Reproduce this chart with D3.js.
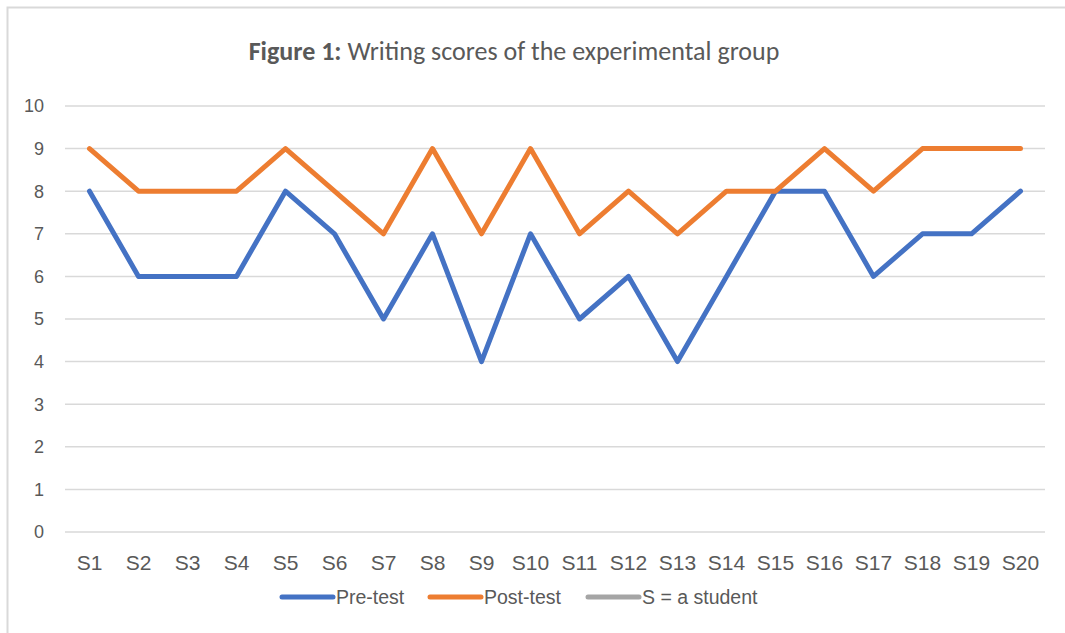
<!DOCTYPE html>
<html>
<head>
<meta charset="utf-8">
<script src="https://cdn.jsdelivr.net/npm/d3@7"></script>
<style>
  body { margin: 0; background: #fff; }
  svg text { fill: #595959; }
</style>
</head>
<body>
<div id="chart"></div>
<script>
// students on the x axis
var students = ["S1","S2","S3","S4","S5","S6","S7","S8","S9","S10",
                "S11","S12","S13","S14","S15","S16","S17","S18","S19","S20"];
var preTest  = [8,6,6,6,8,7,5,7,4,7,5,6,4,6,8,8,6,7,7,8];
var postTest = [9,8,8,8,9,8,7,9,7,9,7,8,7,8,8,9,8,9,9,9];
var yTicks = [0,1,2,3,4,5,6,7,8,9,10];
var legendNames = ["Pre-test", "Post-test", "S = a student"];
var colors = ["#4472C4", "#ED7D31", "#A5A5A5"];

var W = 1065, H = 633;
var svg = d3.select("#chart").append("svg")
    .attr("width", W)
    .attr("height", H);

// chart frame (only top and left edge show in the picture)
svg.append("rect")
    .attr("x", 7.5).attr("y", 7.5)
    .attr("width", W + 20).attr("height", H + 20)
    .attr("fill", "none")
    .attr("stroke", "#D9D9D9")
    .attr("stroke-width", 2);

var x = d3.scaleBand().domain(students).range([65, 1045]);
var y = d3.scaleLinear().domain([0, 10]).range([532, 106]);

// gridlines
svg.append("g")
  .selectAll("line")
  .data(yTicks)
  .enter()
  .append("line")
    .attr("x1", 65).attr("x2", 1045)
    .attr("y1", function(d){ return y(d) }).attr("y2", function(d){ return y(d) })
    .attr("stroke", "#D9D9D9")
    .attr("stroke-width", 1.5);

// y labels
svg.append("g")
  .selectAll("text")
  .data(yTicks)
  .enter()
  .append("text")
    .attr("x", 44)
    .attr("y", function(d){ return y(d) })
    .attr("dy", "0.35em")
    .attr("text-anchor", "end")
    .style("font-family", "Liberation Sans, Arial, sans-serif")
    .style("font-size", "18px")
    .text(function(d){ return d });

// x labels
svg.append("g")
  .selectAll("text")
  .data(students)
  .enter()
  .append("text")
    .attr("x", function(d){ return x(d) + x.bandwidth() / 2 })
    .attr("y", 570)
    .attr("text-anchor", "middle")
    .style("font-family", "Liberation Sans, Arial, sans-serif")
    .style("font-size", "21px")
    .text(function(d){ return d });

var line = d3.line()
    .x(function(d, i){ return x(students[i]) + x.bandwidth() / 2 })
    .y(function(d){ return y(d) });

[preTest, postTest].forEach(function(series, k) {
  svg.append("path")
    .datum(series)
    .attr("d", line)
    .attr("fill", "none")
    .attr("stroke", colors[k])
    .attr("stroke-width", 5)
    .attr("stroke-linejoin", "round")
    .attr("stroke-linecap", "round");
});

// title
var title = svg.append("text")
    .attr("x", 514)
    .attr("y", 60)
    .attr("text-anchor", "middle")
    .style("font-family", "Carlito, Lato, 'Open Sans', sans-serif")
    .style("font-size", "26px");
title.append("tspan").style("font-weight", "bold").text("Figure 1:");
title.append("tspan").text(" Writing scores of the experimental group");

// legend
var legendX = [282, 430, 588];
var legend = svg.append("g")
  .selectAll("g")
  .data(legendNames)
  .enter()
  .append("g")
    .attr("transform", function(d, i){ return "translate(" + legendX[i] + ",597)" });
legend.append("line")
    .attr("x1", 0).attr("x2", 51)
    .attr("stroke", function(d, i){ return colors[i] })
    .attr("stroke-width", 5)
    .attr("stroke-linecap", "round");
legend.append("text")
    .attr("x", 54)
    .attr("dy", "0.35em")
    .style("font-family", "Liberation Sans, Arial, sans-serif")
    .style("font-size", "19.5px")
    .text(function(d){ return d });
</script>
</body>
</html>
